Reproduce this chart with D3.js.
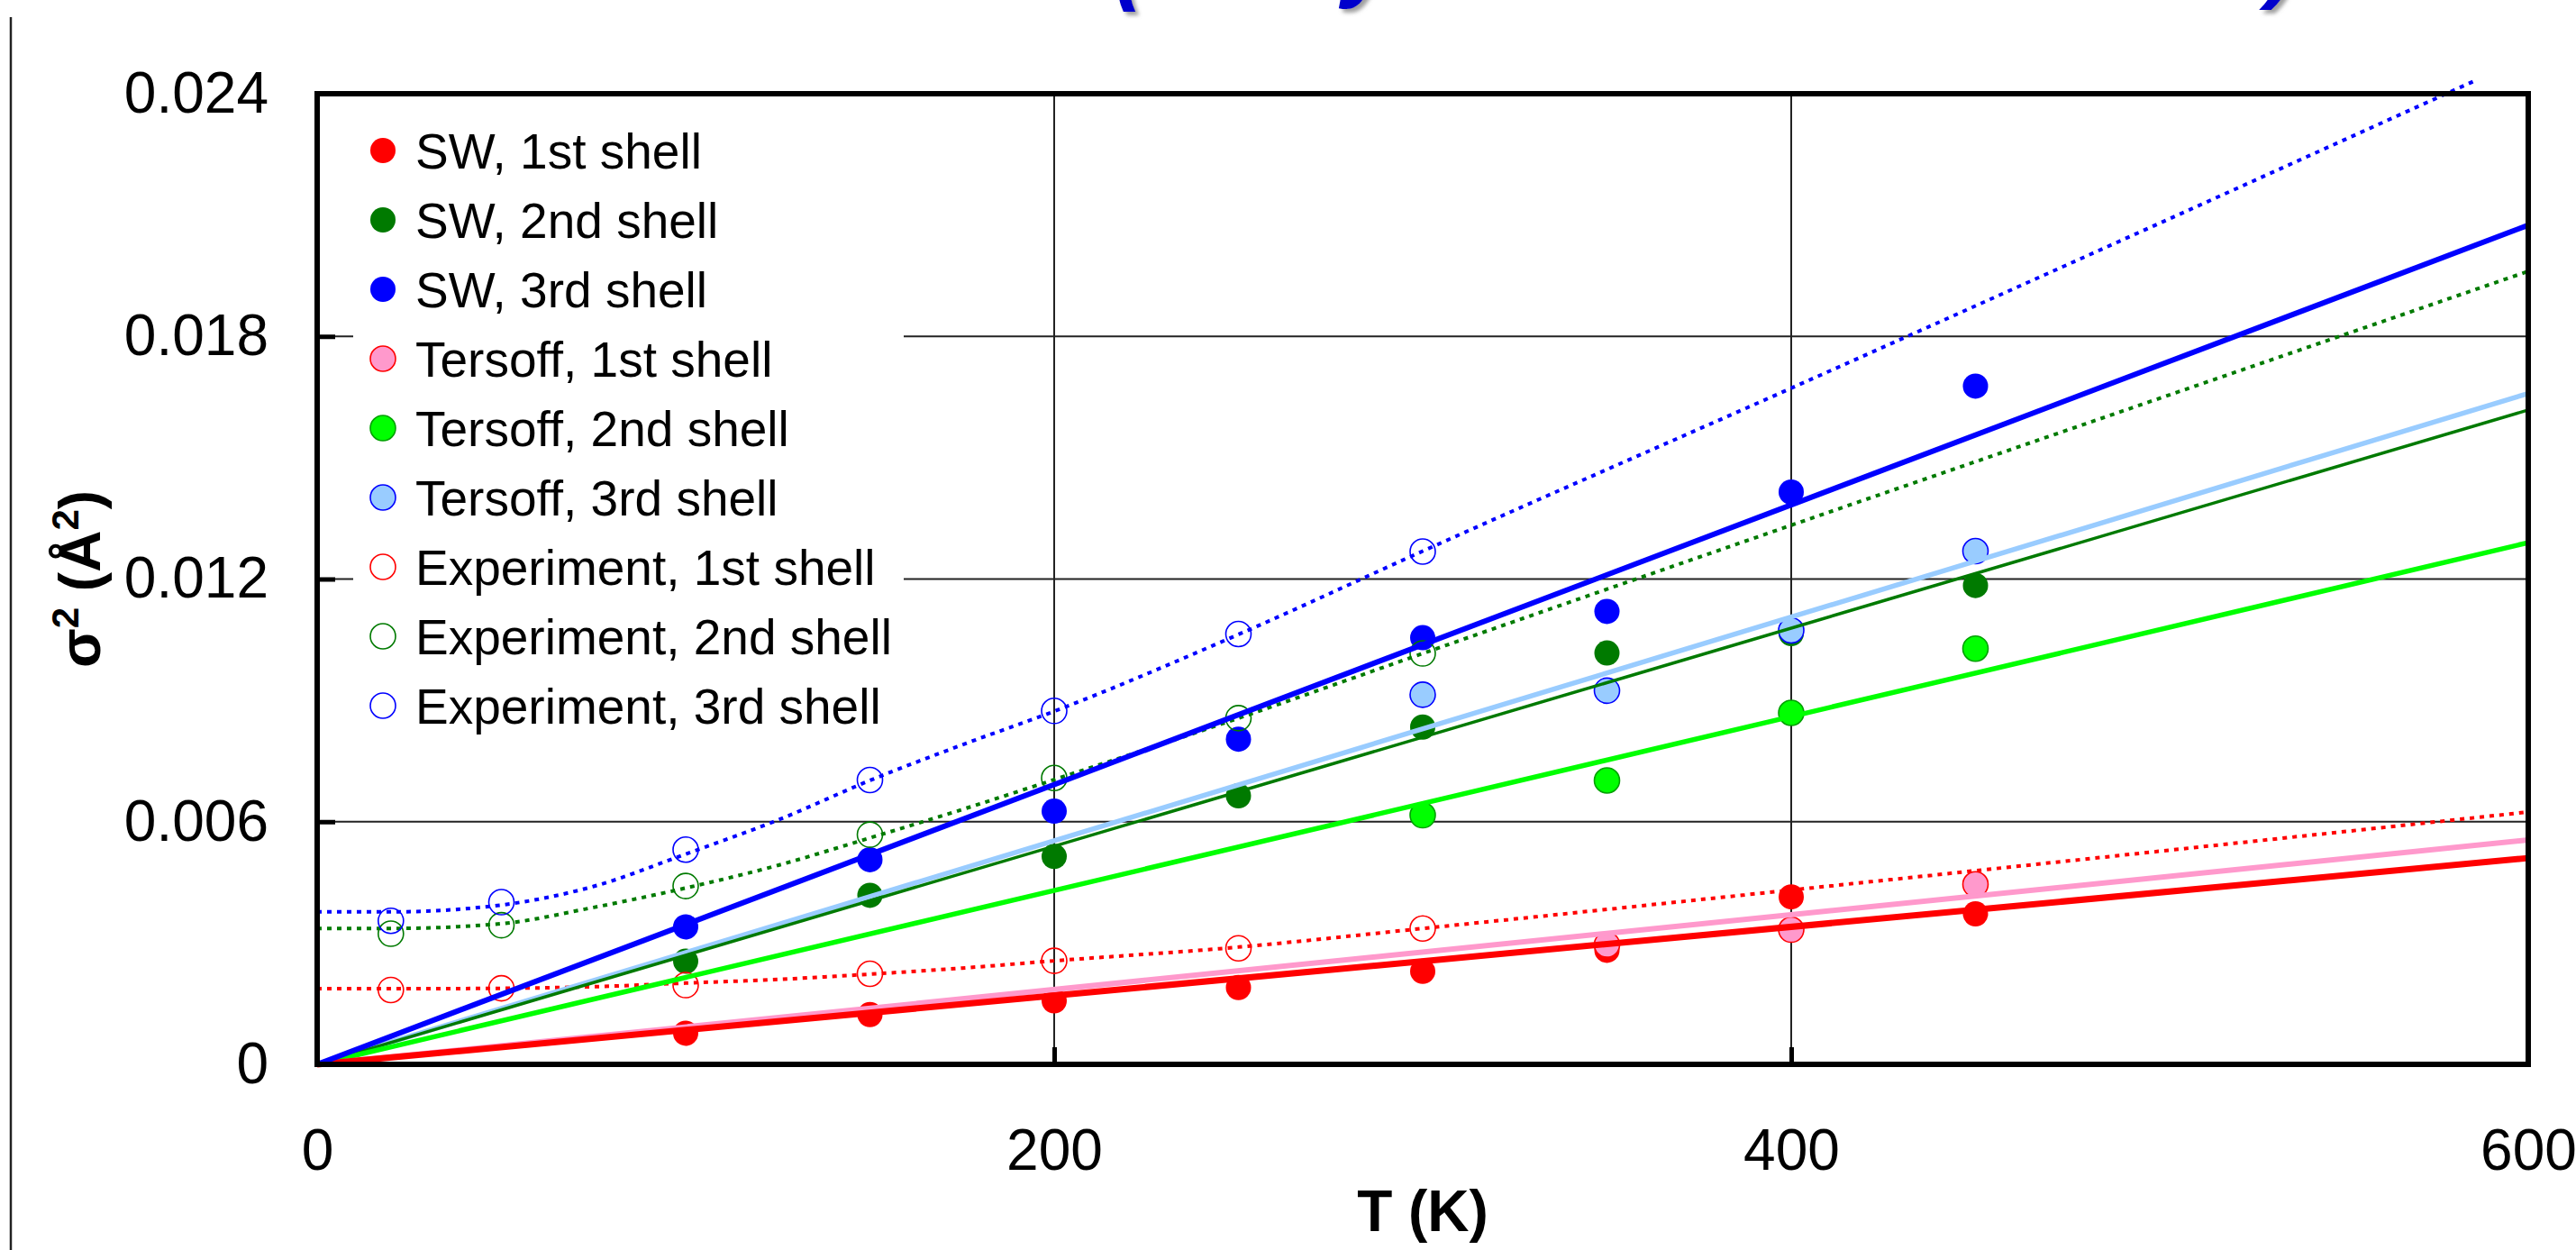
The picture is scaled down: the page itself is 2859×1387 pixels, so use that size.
<!DOCTYPE html>
<html>
<head>
<meta charset="utf-8">
<script src="https://cdn.jsdelivr.net/npm/d3@7"></script>
<style>
  html, body { margin: 0; padding: 0; background: #ffffff; }
  svg { display: block; }
</style>
</head>
<body>
<svg id="chart" width="2859" height="1387"></svg>
<script>
// ---- data: Debye-Waller factors sigma^2 (A^2) vs temperature T (K) ----
const tSim = [100, 150, 200, 250, 300, 350, 400, 450];
const swShell1 = [0.00077, 0.00123, 0.00157, 0.00190, 0.00230, 0.00282, 0.00414, 0.00372];
const swShell2 = [0.00255, 0.00418, 0.00514, 0.00664, 0.00834, 0.01017, 0.01065, 0.01184];
const swShell3 = [0.00340, 0.00506, 0.00626, 0.00804, 0.01055, 0.01120, 0.01415, 0.01677];

const tTersoff = [300, 350, 400, 450];
const tersoffShell1 = [null, 0.00296, 0.00333, 0.00445];
const tersoffShell2 = [0.00616, 0.00702, 0.00869, 0.01028];
const tersoffShell3 = [0.00914, 0.00924, 0.01073, 0.01269];

const tExp = [20, 50, 100, 150, 200, 250, 300];
const expShell1 = [0.00184, 0.00188, 0.00196, 0.00224, 0.00256, 0.00287, 0.00336];
const expShell2 = [0.00323, 0.00344, 0.00441, 0.00568, 0.00708, 0.00856, 0.01016];
const expShell3 = [0.00355, 0.00401, 0.00531, 0.00703, 0.00874, 0.01064, 0.01268];

// linear fits through the origin (values at T = 0 and T = 600)
const fitT = [0, 600];
const swFit1 = [0, 0.00510];
const swFit2 = [0, 0.01618];
const swFit3 = [0, 0.02075];
const tersoffFit1 = [0, 0.00555];
const tersoffFit2 = [0, 0.01290];
const tersoffFit3 = [0, 0.01659];

// model curves through the experimental points
const curveT = [0, 20, 50, 75, 100, 125, 150, 175, 200, 250, 300, 400, 500, 600];
const expCurve1 = [0.00187, 0.00187, 0.00188, 0.00192, 0.00201, 0.00210, 0.00223, 0.00238, 0.00256, 0.00290, 0.00336, 0.00431, 0.00527, 0.00624];
const expCurve2 = [0.00336, 0.00336, 0.00348, 0.00388, 0.00436, 0.00492, 0.00560, 0.00630, 0.00704, 0.00856, 0.01016, 0.01333, 0.01647, 0.01961];
const curveT3 = [0, 20, 50, 75, 100, 125, 150, 175, 200, 250, 300, 400, 500, 585];
const expCurve3 = [0.00377, 0.00377, 0.00394, 0.00440, 0.00520, 0.00604, 0.00702, 0.00790, 0.00873, 0.01063, 0.01269, 0.01672, 0.02080, 0.02430];

const xTicks = [0, 200, 400, 600];
const yTicks = [0, 0.006, 0.012, 0.018, 0.024];
const yTickLabels = ["0", "0.006", "0.012", "0.018", "0.024"];
const legendLabels = [
  "SW, 1st shell", "SW, 2nd shell", "SW, 3rd shell",
  "Tersoff, 1st shell", "Tersoff, 2nd shell", "Tersoff, 3rd shell",
  "Experiment, 1st shell", "Experiment, 2nd shell", "Experiment, 3rd shell"
];

// ---- styles ----
const RED = "#ff0000", DKGREEN = "#007a00", BLUE = "#0000ff";
const PINK = "#ff99cc", LTGREEN = "#00ff00", LTBLUE = "#99ccff";
const FONT = "'Liberation Sans', Arial, Helvetica, sans-serif";

const svg = d3.select("#chart");
const plot = { left: 352, right: 2806, top: 104, bottom: 1181 };
const x = d3.scaleLinear().domain([0, 600]).range([plot.left, plot.right]);
const y = d3.scaleLinear().domain([0, 0.024]).range([plot.bottom, plot.top]);

svg.append("rect").attr("width", 2859).attr("height", 1387).attr("fill", "#fff");

// drop shadow for the heading glyphs and the page frame
const defs = svg.append("defs");
const sh = defs.append("filter").attr("id", "shadow").attr("x", "-20%").attr("y", "-20%").attr("width", "160%").attr("height", "160%");
sh.append("feDropShadow").attr("dx", 4).attr("dy", 4).attr("stdDeviation", 2).attr("flood-color", "#888").attr("flood-opacity", 0.8);

// page frame
svg.append("line").attr("x1", 12).attr("x2", 2859).attr("y1", 19).attr("y2", 19)
  .attr("stroke", "#222").attr("stroke-width", 2.5).attr("filter", "url(#shadow)");
svg.append("line").attr("x1", 12).attr("x2", 12).attr("y1", 19).attr("y2", 1387)
  .attr("stroke", "#222").attr("stroke-width", 2.5);

// heading glyphs running off the top edge
const heading = svg.append("g").attr("font-family", FONT).attr("font-weight", "bold")
  .attr("font-style", "italic").attr("font-size", 100).attr("fill", "#0000cc")
  .attr("filter", "url(#shadow)");
heading.append("text").attr("x", 1236).attr("y", -8).text("(");
heading.append("text").attr("x", 1490).attr("y", -11).text("y");
heading.append("text").attr("x", 2516).attr("y", -10).text(")");

// grid
const grid = svg.append("g").attr("stroke", "#222").attr("stroke-width", 2);
grid.selectAll("line.gx").data(xTicks.filter(d => d > 0 && d < 600)).join("line")
  .attr("x1", d => x(d)).attr("x2", d => x(d)).attr("y1", plot.top).attr("y2", plot.bottom);
grid.selectAll("line.gy").data(yTicks.filter(d => d > 0 && d < 0.024)).join("line")
  .attr("x1", plot.left).attr("x2", plot.right).attr("y1", d => y(d)).attr("y2", d => y(d));

// legend background
svg.append("rect").attr("x", 392).attr("y", 120).attr("width", 611).attr("height", 710).attr("fill", "#fff");

// axes
const yAxis = d3.axisLeft(y).tickValues(yTicks).tickFormat((d, i) => yTickLabels[i])
  .tickSize(-20).tickPadding(54);
const gy = svg.append("g").attr("transform", `translate(${plot.left},0)`).call(yAxis);
const xAxis = d3.axisBottom(x).tickValues(xTicks).tickFormat(d3.format("d"))
  .tickSize(-19).tickPadding(72);
const gx = svg.append("g").attr("transform", `translate(0,${plot.bottom})`).call(xAxis);
[gx, gy].forEach(g => {
  g.select(".domain").remove();
  g.selectAll(".tick line").attr("stroke", "#000").attr("stroke-width", 5);
  g.selectAll(".tick text").attr("font-family", FONT).attr("font-size", 64).attr("fill", "#000");
});

// series
const pts = (ts, vs) => ts.map((t, i) => ({ t, v: vs[i] })).filter(d => d.v != null);
const line = d3.line().x(d => x(d.t)).y(d => y(d.v));
const smooth = d3.line().x(d => x(d.t)).y(d => y(d.v)).curve(d3.curveMonotoneX);

const curves = [
  { data: pts(curveT, expCurve1), color: RED },
  { data: pts(curveT, expCurve2), color: DKGREEN },
  { data: pts(curveT3, expCurve3), color: BLUE }
];
svg.append("g").selectAll("path").data(curves).join("path")
  .attr("d", d => smooth(d.data)).attr("fill", "none").attr("stroke", d => d.color)
  .attr("stroke-width", 4).attr("stroke-dasharray", "5 6");

const markerSets = [
  { data: pts(tSim, swShell1), fill: RED, stroke: "none" },
  { data: pts(tSim, swShell2), fill: DKGREEN, stroke: "none" },
  { data: pts(tSim, swShell3), fill: BLUE, stroke: "none" },
  { data: pts(tTersoff, tersoffShell1), fill: PINK, stroke: RED },
  { data: pts(tTersoff, tersoffShell2), fill: LTGREEN, stroke: "#00a000" },
  { data: pts(tTersoff, tersoffShell3), fill: LTBLUE, stroke: BLUE },
  { data: pts(tExp, expShell1), fill: "none", stroke: RED },
  { data: pts(tExp, expShell2), fill: "none", stroke: DKGREEN },
  { data: pts(tExp, expShell3), fill: "none", stroke: BLUE }
];
const mg = svg.append("g");
markerSets.forEach(s => {
  mg.append("g").selectAll("circle").data(s.data).join("circle")
    .attr("cx", d => x(d.t)).attr("cy", d => y(d.v)).attr("r", 14)
    .attr("fill", s.fill).attr("stroke", s.stroke).attr("stroke-width", 1.6);
});

const fits = [
  { data: pts(fitT, tersoffFit3), color: LTBLUE, w: 5.5 },
  { data: pts(fitT, swFit2), color: DKGREEN, w: 3.5 },
  { data: pts(fitT, tersoffFit2), color: LTGREEN, w: 5.5 },
  { data: pts(fitT, tersoffFit1), color: PINK, w: 6 },
  { data: pts(fitT, swFit1), color: RED, w: 7 },
  { data: pts(fitT, swFit3), color: BLUE, w: 6 }
];
svg.append("g").selectAll("path").data(fits).join("path")
  .attr("d", d => line(d.data)).attr("fill", "none").attr("stroke", d => d.color)
  .attr("stroke-width", d => d.w);

// plot frame
svg.append("rect").attr("x", plot.left).attr("y", plot.top)
  .attr("width", plot.right - plot.left).attr("height", plot.bottom - plot.top)
  .attr("fill", "none").attr("stroke", "#000").attr("stroke-width", 6);

// legend entries
const lg = svg.append("g").attr("font-family", FONT).attr("font-size", 55);
const legendRows = lg.selectAll("g").data(legendLabels).join("g")
  .attr("transform", (d, i) => `translate(0,${167 + i * 77})`);
legendRows.append("circle").attr("cx", 425).attr("cy", 0).attr("r", 14)
  .attr("fill", (d, i) => markerSets[i].fill).attr("stroke", (d, i) => markerSets[i].stroke)
  .attr("stroke-width", 1.6);
legendRows.append("text").attr("x", 461).attr("y", 0).attr("dy", "0.36em").text(d => d);

// axis titles
svg.append("text").attr("x", (plot.left + plot.right) / 2).attr("y", 1366)
  .attr("text-anchor", "middle").attr("font-family", FONT).attr("font-weight", "bold")
  .attr("font-size", 64).text("T (K)");
const yt = svg.append("text").attr("transform", `translate(111,${(plot.top + plot.bottom) / 2}) rotate(-90)`)
  .attr("text-anchor", "middle").attr("font-family", FONT).attr("font-weight", "bold").attr("font-size", 64);
yt.append("tspan").text("σ");
yt.append("tspan").attr("font-size", 42).attr("dy", -24).text("2");
yt.append("tspan").attr("dy", 24).text(" (Å");
yt.append("tspan").attr("font-size", 42).attr("dy", -24).text("2");
yt.append("tspan").attr("dy", 24).text(")");
</script>
</body>
</html>
